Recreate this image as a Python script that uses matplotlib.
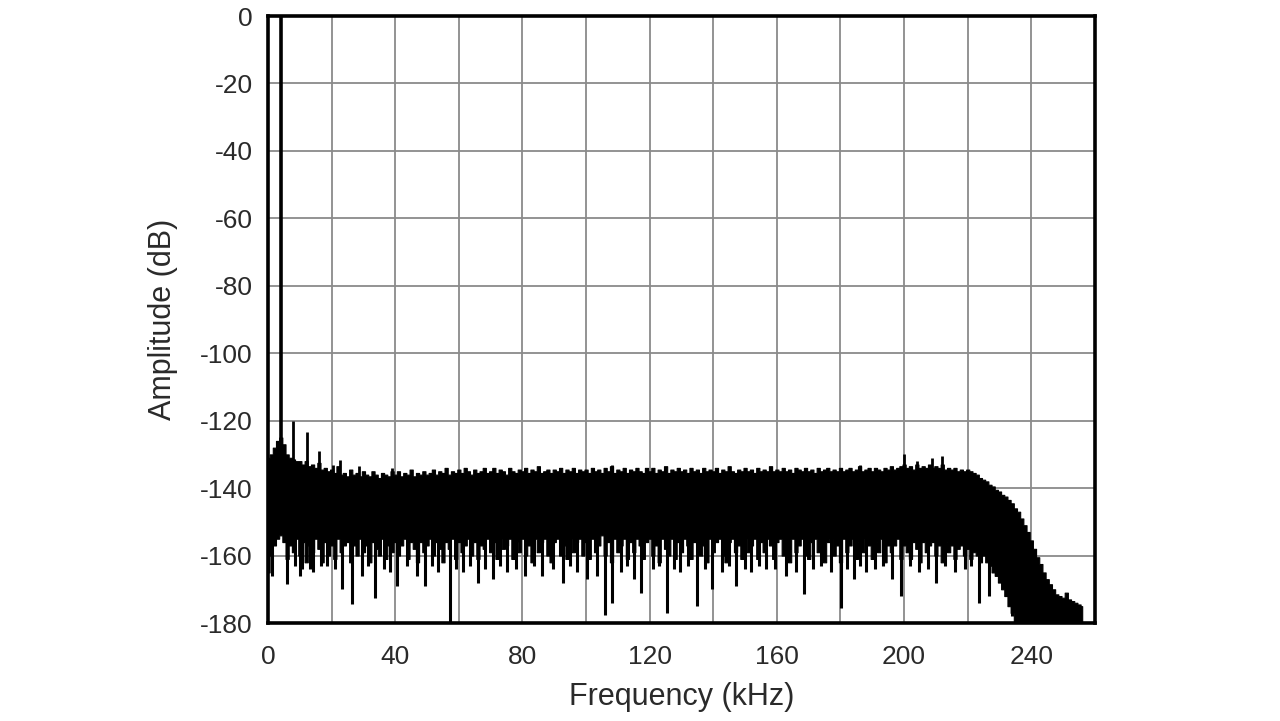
import matplotlib
matplotlib.use('Agg')
import matplotlib.pyplot as plt

plt.rcParams['axes.unicode_minus'] = False
plt.rcParams['font.family'] = ['Liberation Sans', 'DejaVu Sans']

# noise floor, 1 kHz knots: estimated top and bottom of the dense band (dB)
env_freq = list(range(0, 257))
env_top = [
    -131, -130, -128, -126, -125, -127, -130, -131, -131.5, -132,
    -132, -133, -132, -133.5, -133, -134, -132.5, -134.5, -134, -135,
    -134.5, -135.5, -133.5, -136, -135.5, -136.5, -134.5, -136, -135.5, -136.5,
    -135, -136, -136.5, -135, -136, -137, -135.5, -136, -136.5, -135,
    -136, -135, -136.5, -135.5, -136, -134.5, -136.5, -135.5, -136, -135,
    -136, -135.5, -134.5, -136, -135, -135.5, -134, -136, -135, -135.5,
    -134.5, -135.5, -134, -135, -136, -134.5, -135.5, -135, -134, -135.5,
    -135, -134, -135.5, -134.5, -135, -136, -134, -135, -135.5, -134.5,
    -135, -134, -135.5, -134.5, -135, -133.5, -135.5, -135, -134.5, -135.5,
    -134.5, -135, -134, -135.5, -134.5, -135, -134, -135.5, -134.5, -135,
    -134.5, -135.5, -134, -135, -134.5, -135.5, -134, -135, -133.5, -135.5,
    -134.5, -135, -134, -135.5, -134.5, -135, -134, -135, -135.5, -134,
    -135, -134, -135.5, -134.5, -135, -133.5, -135.5, -134.5, -135, -134,
    -135, -134.5, -135.5, -134, -135, -134.5, -135.5, -134, -135, -134.5,
    -135, -134, -135.5, -134.5, -135, -133.5, -135, -135.5, -134.5, -135,
    -134, -135, -134.5, -135.5, -134, -135, -134.5, -135, -133.5, -135,
    -134.5, -135, -134, -135, -134.5, -135.5, -134, -134.5, -135, -134,
    -135, -134.5, -135.5, -134, -135, -134.5, -134, -135, -134.5, -135,
    -134, -135, -134.5, -134, -135, -134.5, -133.5, -135, -134.5, -134,
    -135, -134, -134.5, -135, -134, -134.5, -133.5, -134.5, -134, -133.5,
    -133, -134, -133.5, -134.5, -133, -134, -133.5, -134, -133, -134,
    -133.5, -134, -133, -134.5, -134, -134.5, -134, -135, -134.5, -135,
    -134.5, -135, -135.5, -136, -137, -137.5, -138, -139, -139.5, -140.5,
    -141, -142, -142.5, -143.5, -144.5, -146, -147, -149, -151, -153,
    -155.5, -158, -160.5, -162.5, -165, -167, -168.5, -170, -171.5, -172,
    -172.5, -171, -173, -173.5, -174, -174.5, -175]
env_low = [
    -165, -160, -157, -155, -154, -156, -161, -157, -159, -155,
    -160, -156, -162, -157, -159, -155, -158, -162, -156, -160,
    -157, -161, -155, -159, -157, -156, -162, -157, -160, -155,
    -159, -157, -162, -156, -158, -160, -155, -161, -157, -159,
    -156, -160, -157, -155, -161, -156, -158, -162, -156, -159,
    -157, -155, -160, -156, -158, -162, -156, -158, -155, -161,
    -156, -159, -157, -155, -160, -156, -161, -157, -158, -155,
    -159, -156, -161, -155, -158, -157, -155, -161, -156, -159,
    -155, -160, -157, -162, -155, -159, -156, -155, -160, -162,
    -156, -155, -160, -157, -161, -155, -159, -156, -155, -160,
    -156, -161, -155, -159, -157, -154, -160, -156, -162, -155,
    -159, -157, -155, -161, -156, -159, -155, -157, -161, -156,
    -155, -160, -157, -162, -155, -158, -160, -155, -161, -156,
    -159, -155, -157, -161, -156, -155, -160, -157, -162, -155,
    -159, -156, -155, -160, -162, -156, -155, -159, -157, -161,
    -155, -159, -157, -155, -161, -156, -159, -155, -157, -161,
    -156, -155, -160, -157, -162, -155, -159, -157, -155, -160,
    -161, -156, -155, -159, -157, -162, -156, -155, -160, -157,
    -162, -155, -159, -157, -155, -161, -156, -159, -155, -157,
    -161, -156, -159, -155, -162, -157, -159, -157, -155, -161,
    -157, -159, -161, -156, -158, -162, -156, -159, -157, -156,
    -160, -157, -162, -156, -159, -157, -161, -158, -157, -160,
    -158, -161, -159, -160, -162, -160, -162, -163, -165, -166,
    -168, -170, -172, -175, -177, -180, -181, -181, -181, -181,
    -181, -181, -181, -181, -181, -181, -181, -181, -181, -181,
    -181, -181, -181, -181, -181, -181, -181]

# downward dips below the band (kHz, dB)
dip_freq = [1.3, 6.1, 8.5, 10.0, 10.7, 13.2, 14.1, 16.5, 18.5, 21.0, 23.2, 26.4, 29.5, 31.5, 33.6, 36.5, 38.5, 40.5, 43.6, 46.8,
            49.3, 51.5, 53.4, 57.1, 59.0, 61.2, 63.5, 65.9, 68.2, 70.6, 73.0, 75.0, 78.0, 80.7, 83.5, 86.0, 89.5, 92.6, 95.0, 97.3,
            100.2, 103.3, 105.8, 108.3, 111.1, 113.0, 115.2, 117.4, 120.9, 123.0, 125.6, 127.5, 129.4, 132.0, 135.0, 137.5, 139.7, 142.9, 145.0, 147.3,
            150.0, 152.0, 154.5, 156.7, 159.5, 163.0, 166.1, 168.6, 171.5, 174.0, 177.0, 180.2, 182.0, 184.3, 186.0, 188.1, 191.0, 193.5, 196.2, 199.1,
            202.0, 204.7, 207.5, 210.0, 213.0, 216.0, 219.0, 221.0, 223.5, 226.7, 229.0, 231.5, 233.9, 235.5]
dip_db = [-166, -168.5, -163, -166, -164, -164, -165, -163, -163, -164, -170, -174.5, -166, -163, -172.5, -164, -165, -169, -163, -166,
          -169, -163, -165, -181, -164, -165, -163, -168, -164, -167, -163, -165, -164, -166, -163, -166, -164, -168, -163, -165,
          -167, -166, -177.5, -174, -165, -163, -167, -171, -164, -163, -177, -164, -165, -163, -175, -164, -170, -165, -163, -169,
          -164, -165, -163, -164, -164, -166, -165, -171.5, -164, -163, -165, -175.5, -164, -167, -163, -165, -164, -163, -167, -172,
          -163, -165, -164, -168, -163, -165, -164, -163, -174, -172, -166, -170, -178, -177]

# tone and harmonics / spurs above the band (kHz, dB)
tone_freq = 4.0
tone_db = 0
spur_freq = [7.9, 12.1, 16.0, 20.5, 22.6, 28.5, 39.0, 108.0, 186.0, 200.0, 204.0, 208.8, 212.0]
spur_db = [-120, -123.5, -129, -133, -131.7, -133.5, -134, -133, -133, -130, -132, -131, -130.5]

fig = plt.figure(figsize=(12.8, 7.21), dpi=100)
ax = fig.add_axes([0.2094, 0.1359, 0.646, 0.8419])

ax.fill_between(env_freq, env_low, env_top, step='mid', color='black', lw=0.8, edgecolor='black', zorder=3)
ax.vlines(dip_freq, dip_db, -152, color='black', lw=2.2, zorder=3)
ax.vlines(spur_freq, -138, spur_db, color='black', lw=2.0, zorder=3)
ax.vlines([tone_freq], -128, [tone_db], color='black', lw=2.6, zorder=3)

ax.set_xlim(0, 260)
ax.set_ylim(-180, 0)
ax.set_xticks(range(0, 261, 20), minor=True)
ax.set_xticks(range(0, 241, 40))
ax.set_yticks(range(-180, 1, 20))
ax.grid(True, which='both', color='#8a8a8a', lw=1.3, zorder=1)
ax.set_axisbelow(True)
for s in ax.spines.values():
    s.set_linewidth(2.6)
    s.set_color('black')
    s.set_zorder(5)

txt = '#2a2a2a'
ax.tick_params(which='both', length=0, labelsize=19, colors=txt)
ax.tick_params(axis='x', pad=16)
ax.tick_params(axis='y', pad=11)
ax.set_xlabel('Frequency (kHz)', fontsize=22, color=txt, labelpad=9)
ax.set_ylabel('Amplitude (dB)', fontsize=22, color=txt, labelpad=16)

fig.savefig('out.png', dpi=100)
